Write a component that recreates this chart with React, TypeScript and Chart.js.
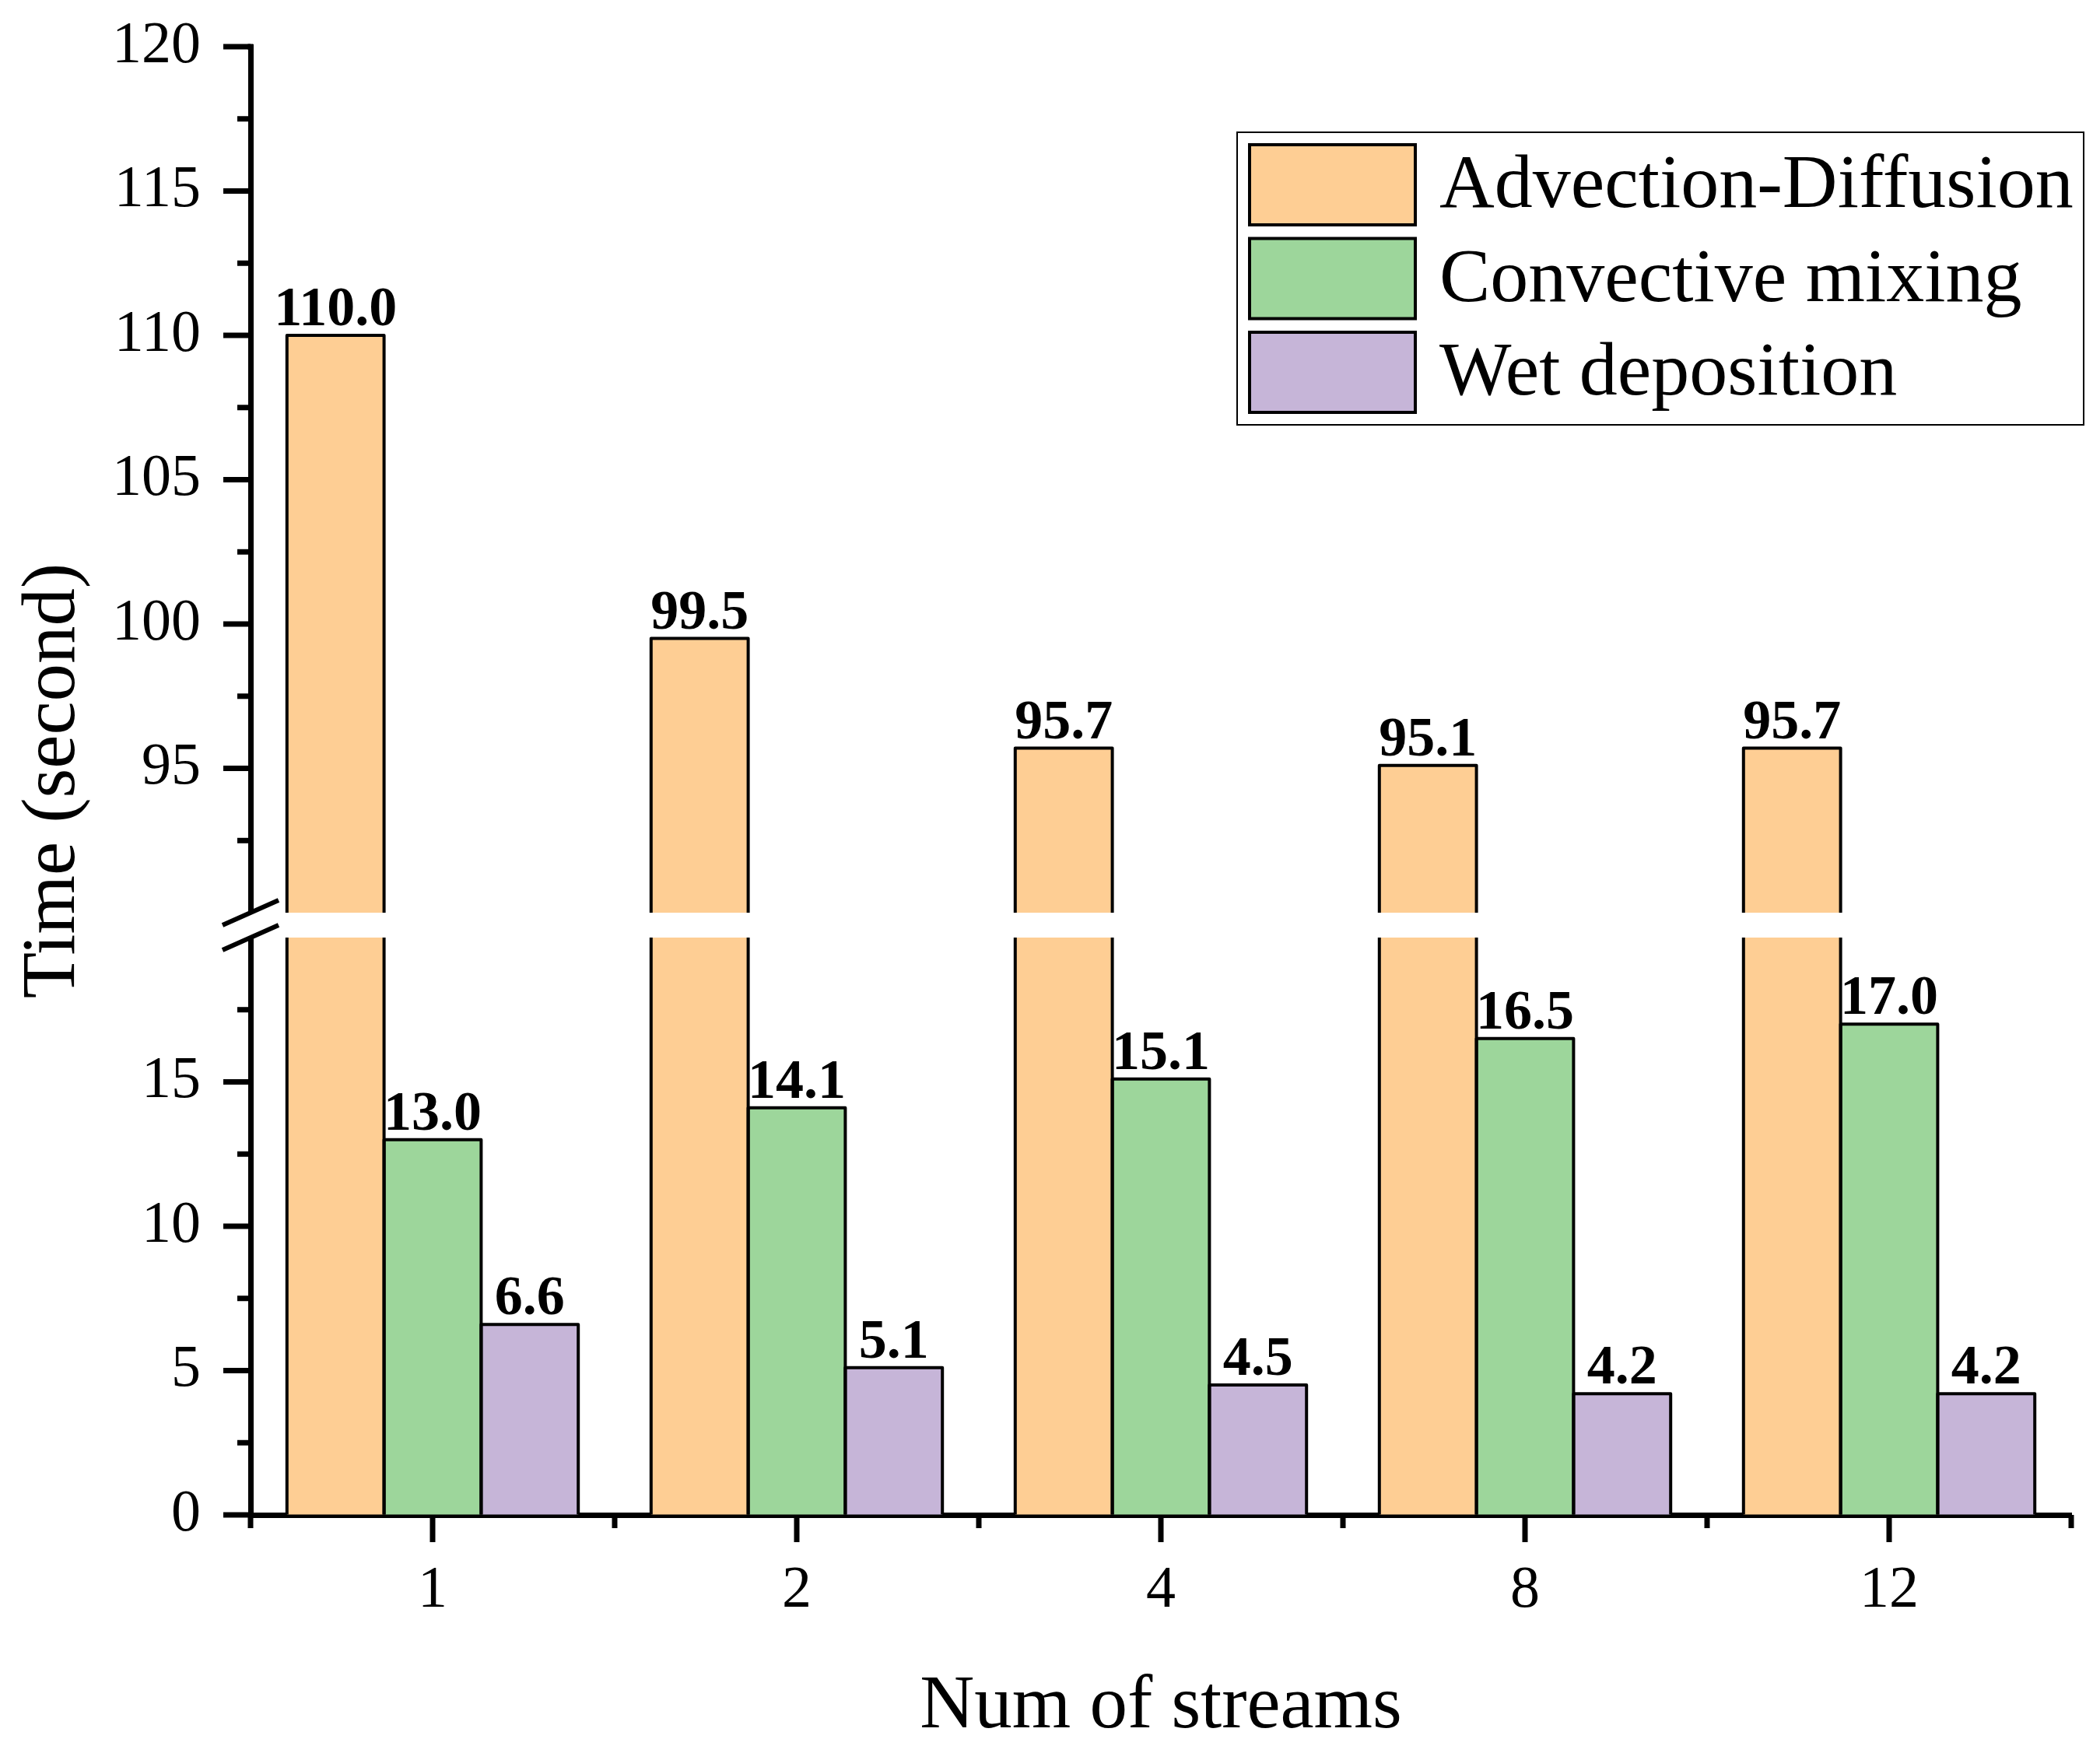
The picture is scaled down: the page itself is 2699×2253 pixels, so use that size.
import React, { useEffect, useRef } from 'react';
import { Chart, registerables } from 'chart.js';

Chart.register(...registerables);

// ---------- data ----------
const categories = ['1', '2', '4', '8', '12'];
const seriesNames = ['Advection-Diffusion', 'Convective mixing', 'Wet deposition'];
const advectionDiffusion = [110.0, 99.5, 95.7, 95.1, 95.7];
const convectiveMixing = [13.0, 14.1, 15.1, 16.5, 17.0];
const wetDeposition = [6.6, 5.1, 4.5, 4.2, 4.2];
const seriesColors = ['#FECE94', '#9DD69B', '#C6B5D8'];

const lowerTicks = [0, 2.5, 5, 7.5, 10, 12.5, 15, 17.5];
const upperTicks = [92.5, 95, 97.5, 100, 102.5, 105, 107.5, 110, 112.5, 115, 117.5, 120];
const labeledTicks = [0, 5, 10, 15, 95, 100, 105, 110, 115, 120];

// axis break: lower segment 0..20, upper segment 90..120
const BREAK_LOW = 20;
const BREAK_HIGH = 90;
const AXIS_TOP = 120;
const GAP = 0.86;

const tf = (v: number) => (v <= BREAK_LOW ? v : v - BREAK_HIGH + BREAK_LOW + GAP);
const inv = (t: number) => (t <= BREAK_LOW + GAP / 2 ? t : t - GAP - BREAK_LOW + BREAK_HIGH);

const seriesValues = [advectionDiffusion, convectiveMixing, wetDeposition];
const FONT = '"Liberation Serif", "Times New Roman", serif';
const AXIS_W = 7;

const outlinePlugin = {
  id: 'outlinePlugin',
  afterDatasetsDraw(chart: any) {
    const ctx = chart.ctx as CanvasRenderingContext2D;
    ctx.save();
    ctx.strokeStyle = '#000';
    ctx.lineWidth = 4;
    ctx.lineJoin = 'round';
    chart.data.datasets.forEach((_: any, di: number) => {
      const meta = chart.getDatasetMeta(di);
      meta.data.forEach((el: any) => {
        const p = el.getProps(['x', 'y', 'base', 'width'], true);
        const l = p.x - p.width / 2;
        const r = p.x + p.width / 2;
        ctx.beginPath();
        ctx.moveTo(l, p.base);
        ctx.lineTo(l, p.y);
        ctx.lineTo(r, p.y);
        ctx.lineTo(r, p.base);
        ctx.stroke();
      });
    });
    ctx.restore();
  },
};

const overlayPlugin = {
  id: 'overlayPlugin',
  afterDraw(chart: any) {
    const ctx = chart.ctx as CanvasRenderingContext2D;
    const ca = chart.chartArea;
    const xs = chart.scales.x;
    const ys = chart.scales.y;
    const axisX = ca.left;
    const axisY = ca.bottom;
    const yGapTop = ys.getPixelForValue(tf(BREAK_HIGH));
    const yGapBot = ys.getPixelForValue(tf(BREAK_LOW));
    ctx.save();

    // break band
    ctx.fillStyle = '#ffffff';
    ctx.fillRect(axisX - 6, yGapTop, ca.right - axisX + 6, yGapBot - yGapTop);

    ctx.strokeStyle = '#000';
    ctx.lineCap = 'butt';
    const line = (x1: number, y1: number, x2: number, y2: number) => {
      ctx.beginPath();
      ctx.moveTo(x1, y1);
      ctx.lineTo(x2, y2);
      ctx.stroke();
    };

    // break slashes
    ctx.lineWidth = 6;
    for (const y of [yGapTop, yGapBot]) {
      line(axisX - 36, y + 16, axisX + 36, y - 16);
    }

    ctx.lineWidth = AXIS_W;
    // extend top of y-axis to meet tick
    line(axisX, ca.top - AXIS_W / 2, axisX, ca.top + 4);

    // y ticks
    ys.ticks.forEach((t: any) => {
      const orig = Math.round(inv(t.value) * 10) / 10;
      const major = labeledTicks.includes(orig);
      const py = ys.getPixelForValue(t.value);
      line(axisX - (major ? 35 : 17), py, axisX, py);
    });

    // x ticks
    categories.forEach((_, i) => {
      const px = xs.getPixelForValue(i);
      line(px, axisY, px, axisY + 35);
    });
    for (let k = 0; k <= categories.length; k++) {
      const px = xs.getPixelForValue(k - 0.5);
      line(px, axisY, px, axisY + 17);
    }

    // value labels
    ctx.font = `bold 72px ${FONT}`;
    ctx.textAlign = 'center';
    ctx.textBaseline = 'alphabetic';
    ctx.fillStyle = '#000';
    chart.data.datasets.forEach((_: any, di: number) => {
      const meta = chart.getDatasetMeta(di);
      meta.data.forEach((el: any, i: number) => {
        const raw = seriesValues[di][i];
        ctx.fillText(raw.toFixed(1), el.x, el.y - 13);
      });
    });

    // legend
    const bx = 1590, by = 170, bw = 1088, bh = 376;
    ctx.lineWidth = 2;
    ctx.strokeStyle = '#000';
    ctx.strokeRect(bx, by, bw, bh);
    ctx.font = `98px ${FONT}`;
    ctx.textAlign = 'left';
    ctx.textBaseline = 'middle';
    chart.data.datasets.forEach((ds: any, di: number) => {
      const cy = 237.5 + di * 120.5;
      ctx.fillStyle = ds.backgroundColor;
      ctx.fillRect(1606, cy - 51.5, 213, 103);
      ctx.lineWidth = 4;
      ctx.strokeRect(1606, cy - 51.5, 213, 103);
      ctx.fillStyle = '#000';
      ctx.fillText(ds.label, 1850, cy + 3);
    });

    ctx.restore();
  },
};

export default function App() {
  const canvasRef = useRef<HTMLCanvasElement | null>(null);

  useEffect(() => {
    document.body.style.margin = '0';
    document.body.style.overflow = 'hidden';
    const canvas = canvasRef.current;
    if (!canvas) return;
    const yTickValues = [...lowerTicks, ...upperTicks].map(tf);

    const chart = new Chart(canvas, {
      type: 'bar',
      data: {
        labels: categories,
        datasets: seriesValues.map((vals, i) => ({
          label: seriesNames[i],
          data: vals.map(tf),
          backgroundColor: seriesColors[i],
          borderWidth: 0,
          categoryPercentage: 0.8,
          barPercentage: 1.0,
        })),
      },
      options: {
        responsive: false,
        animation: false,
        devicePixelRatio: 1,
        layout: { padding: { left: 0, top: 60, right: 37, bottom: 0 } },
        plugins: {
          legend: { display: false },
          tooltip: { enabled: false },
        },
        scales: {
          x: {
            type: 'category',
            offset: true,
            z: 1,
            grid: {
              drawOnChartArea: false,
              drawTicks: true,
              tickLength: 34,
              tickColor: 'rgba(0,0,0,0)',
              offset: true,
            },
            border: { display: true, color: '#000', width: AXIS_W },
            ticks: {
              padding: 18,
              color: '#000',
              font: { family: FONT, size: 76 },
              maxRotation: 0,
              autoSkip: false,
            },
            title: {
              display: true,
              text: 'Num of streams',
              color: '#000',
              font: { family: FONT, size: 97 },
              padding: { top: 0, bottom: 0 },
            },
            afterFit: (s: any) => {
              s.height = 306;
            },
          },
          y: {
            type: 'linear',
            min: 0,
            max: tf(AXIS_TOP),
            z: 1,
            afterBuildTicks: (s: any) => {
              s.ticks = yTickValues.map((v) => ({ value: v }));
            },
            grid: {
              drawOnChartArea: false,
              drawTicks: true,
              tickLength: 64,
              tickColor: 'rgba(0,0,0,0)',
            },
            border: { display: true, color: '#000', width: AXIS_W },
            ticks: {
              autoSkip: false,
              padding: 0,
              color: '#000',
              font: { family: FONT, size: 76 },
              callback: (value: any) => {
                const o = Math.round(inv(Number(value)) * 10) / 10;
                return labeledTicks.includes(o) ? String(o) : '';
              },
            },
            title: {
              display: true,
              text: 'Time (second)',
              color: '#000',
              font: { family: FONT, size: 97 },
              padding: { top: 11, bottom: 0 },
            },
            afterFit: (s: any) => {
              s.width = 322;
            },
          },
        },
      },
      plugins: [outlinePlugin, overlayPlugin],
    } as any);

    return () => {
      chart.destroy();
    };
  }, []);

  return (
    <div style={{ position: 'absolute', left: 0, top: 0, width: 2699, height: 2253 }}>
      <canvas ref={canvasRef} width={2699} height={2253} style={{ display: 'block', width: 2699, height: 2253 }} />
    </div>
  );
}
